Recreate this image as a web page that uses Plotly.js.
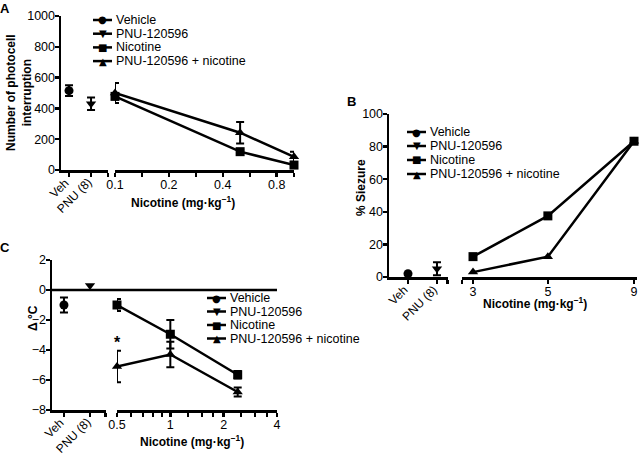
<!DOCTYPE html>
<html>
<head>
<meta charset="utf-8">
<script src="https://cdn.plot.ly/plotly-3.0.1.min.js"></script>
<style>body{margin:0;background:#fff}#chart{width:642px;height:458px}</style>
</head>
<body>
<div id="chart"></div>
<script>
var W = 642, H = 458;
var FONT = 'Liberation Sans, Arial, sans-serif';

var seriesNames = ['Vehicle', 'PNU-120596', 'Nicotine', 'PNU-120596 + nicotine'];
var seriesGlyphs = ['\u25CF', '\u25BC', '\u25A0', '\u25B2'];
var seriesSymbols = ['circle', 'triangle-down', 'square', 'triangle-up'];
var catLabels = ['Veh', 'PNU (8)'];

// A - photocell interruptions
var aDose = [0.1, 0.5, 1.0];
var aVeh = [515], aVehErr = [35];
var aPnu = [430], aPnuErr = [40];
var aNic = [478, 119, 32], aNicErr = [20, 12, 15];
var aCombo = [500, 242, 86], aComboErr = [65, 70, 33];

// B - % seizure
var bDose = [3, 5, 9];
var bVeh = [2];
var bPnu = [5], bPnuErr = [4];
var bNic = [12.5, 37.5, 83.3];
var bCombo = [3, 12.5, 83.3];

// C - body temperature change
var cDose = [0.5, 1, 2.4];
var cVeh = [-1], cVehErr = [0.5];
var cPnu = [0.3];
var cNic = [-1, -2.95, -5.65], cNicErr = [0.4, 0.95, 0.25];
var cCombo = [-5.1, -4.3, -6.8], cComboErr = [1.05, 0.85, 0.3];

function px(x) { return x / W; }
function py(y) { return 1 - y / H; }

function trace(x, y, err, sym, xa, ya) {
	var t = {
		type: 'scatter', mode: 'lines+markers',
		x: x, y: y, xaxis: xa, yaxis: ya,
		showlegend: false, cliponaxis: false,
		line: {color: '#000', width: 2.5},
		marker: {symbol: sym, size: 9, color: '#000'}
	};
	if (err) t.error_y = {type: 'data', array: err, color: '#000', thickness: 2, width: 4};
	return t;
}

var data = [
	trace([0], aVeh, aVehErr, seriesSymbols[0], 'x', 'y'),
	trace([1], aPnu, aPnuErr, seriesSymbols[1], 'x', 'y'),
	trace(aDose, aNic, aNicErr, seriesSymbols[2], 'x2', 'y'),
	trace(aDose, aCombo, aComboErr, seriesSymbols[3], 'x2', 'y'),

	trace([0], bVeh, null, seriesSymbols[0], 'x3', 'y2'),
	trace([1], bPnu, bPnuErr, seriesSymbols[1], 'x3', 'y2'),
	trace(bDose, bNic, null, seriesSymbols[2], 'x4', 'y2'),
	trace(bDose, bCombo, null, seriesSymbols[3], 'x4', 'y2'),

	trace([0], cVeh, cVehErr, seriesSymbols[0], 'x5', 'y3'),
	trace([1], cPnu, null, seriesSymbols[1], 'x5', 'y3'),
	trace(cDose, cNic, cNicErr, seriesSymbols[2], 'x6', 'y3'),
	trace(cDose, cCombo, cComboErr, seriesSymbols[3], 'x6', 'y3')
];

var axisBase = {
	showline: true, linewidth: 2.5, linecolor: '#000',
	ticks: 'outside', ticklen: 4, tickwidth: 2.5, tickcolor: '#000',
	showgrid: false, zeroline: false, fixedrange: true,
	ticklabelstandoff: -3,
	tickfont: {family: FONT, size: 12.5, color: '#000'}
};
function ax(extra) { return Object.assign({}, axisBase, extra); }

// category part of each broken x axis; its labels are drawn as rotated annotations below
function catAxis(d0, d1, r0, r1, anchor) {
	return ax({domain: [px(d0), px(d1)], range: [r0, r1], anchor: anchor,
		tickmode: 'array', tickvals: [0, 1, r1 - 0.01], showticklabels: false});
}
function minor(vals) {
	return {tickmode: 'array', tickvals: vals, ticks: 'outside', ticklen: 4, tickwidth: 2, tickcolor: '#000'};
}

var layout = {
	width: W, height: H,
	margin: {l: 0, r: 0, t: 0, b: 0},
	paper_bgcolor: '#fff', plot_bgcolor: 'rgba(0,0,0,0)',
	showlegend: false,
	font: {family: FONT, size: 12.5, color: '#000'},

	xaxis: catAxis(61, 108, -0.364, 1.77, 'y'),
	xaxis2: ax({type: 'log', domain: [px(115), px(294)], range: [-1, 0], anchor: 'y',
		tickmode: 'array', tickvals: [0.1, 0.2, 0.4, 0.8], ticktext: ['0.1', '0.2', '0.4', '0.8'],
		minor: minor([0.1414, 0.2828, 0.5657, 1])}),
	yaxis: ax({domain: [py(170), py(16)], range: [0, 1000], dtick: 200, anchor: 'x'}),

	xaxis3: catAxis(389, 448, -0.655, 1.38, 'y2'),
	xaxis4: ax({type: 'log', domain: [px(462), px(637)], range: [0.4445, 0.9631], anchor: 'y2',
		tickmode: 'array', tickvals: [3, 5, 9], ticktext: ['3', '5', '9'],
		minor: minor([2.79])}),
	yaxis2: ax({domain: [py(277), py(114)], range: [0, 100], dtick: 20, anchor: 'x3'}),

	xaxis5: catAxis(52, 106, -0.46, 1.615, 'y3'),
	xaxis6: ax({type: 'log', domain: [px(117), px(277)], range: [Math.log10(0.5), Math.log10(4)], anchor: 'y3',
		tickmode: 'array', tickvals: [0.5, 1, 2, 4], ticktext: ['0.5', '1', '2', '4'],
		minor: minor([0.6, 0.7, 0.8, 0.9, 1.25, 1.5, 1.75, 2.5, 3, 3.5])}),
	yaxis3: ax({domain: [py(410), py(260)], range: [-8, 2], dtick: 2, anchor: 'x5'}),

	shapes: [
		{type: 'line', xref: 'paper', x0: px(52), x1: px(277), yref: 'y3', y0: 0, y1: 0,
			line: {color: '#000', width: 2.5}}
	],
	annotations: []
};

function note(text, x, y, opts) {
	var a = Object.assign({text: text, xref: 'paper', yref: 'paper', x: px(x), y: py(y),
		showarrow: false, xanchor: 'center', yanchor: 'middle',
		font: {family: FONT, size: 12.5, color: '#000'}}, opts || {});
	layout.annotations.push(a);
}
var bold = {family: FONT, size: 12, color: '#000'};

// rotated category labels under Veh / PNU ticks
function catTicks(xa, axisY) {
	catLabels.forEach(function(lab, i) {
		layout.annotations.push({text: lab, xref: xa, yref: 'paper', x: i, y: py(axisY + 3),
			xshift: 6, xanchor: 'right', yanchor: 'top', textangle: -45, showarrow: false,
			font: {family: FONT, size: 12, color: '#000'}});
	});
}
catTicks('x', 170);
catTicks('x3', 277);
catTicks('x5', 410);

// panel letters
note('<b>A</b>', 5, 8, {font: {family: FONT, size: 13, color: '#000'}});
note('<b>B</b>', 352, 101, {font: {family: FONT, size: 13, color: '#000'}});
note('<b>C</b>', 5, 247, {font: {family: FONT, size: 13, color: '#000'}});

// axis titles
var xTitle = '<b>Nicotine (mg\u00b7kg<sup>\u22121</sup>)</b>';
note('<b>Number of photocell<br>interruption</b>', 19, 93, {textangle: -90, font: bold});
note(xTitle, 183, 202, {font: bold});
note('<b>% Siezure</b>', 361, 188, {textangle: -90, font: bold});
note(xTitle, 535, 303, {font: bold});
note('<b>\u0394 \u00b0C</b>', 33, 318, {textangle: -90, font: bold});
note(xTitle, 192, 441, {font: bold});

// significance mark
layout.annotations.push({text: '<b>*</b>', xref: 'x6', yref: 'y3',
	x: Math.log10(cDose[0]), y: cCombo[0] + cComboErr[0] + 0.55,
	showarrow: false, font: {family: FONT, size: 16, color: '#000'}});

// hand-made legends (tighter rows than plotly's legend allows)
function legend(x0, y0, rowH) {
	seriesNames.forEach(function(name, i) {
		var y = y0 + i * rowH;
		layout.shapes.push({type: 'line', xref: 'paper', yref: 'paper',
			x0: px(x0), x1: px(x0 + 19), y0: py(y), y1: py(y), line: {color: '#000', width: 2.5}});
		note(seriesGlyphs[i], x0 + 9.5, y, {font: {family: 'DejaVu Sans', size: 10, color: '#000'}});
		note(name, x0 + 21, y, {xanchor: 'left'});
	});
}
legend(93, 20, 13.7);
legend(407, 132, 14);
legend(207, 298, 13.5);

Plotly.newPlot('chart', data, layout, {displayModeBar: false, staticPlot: true});
</script>
</body>
</html>
